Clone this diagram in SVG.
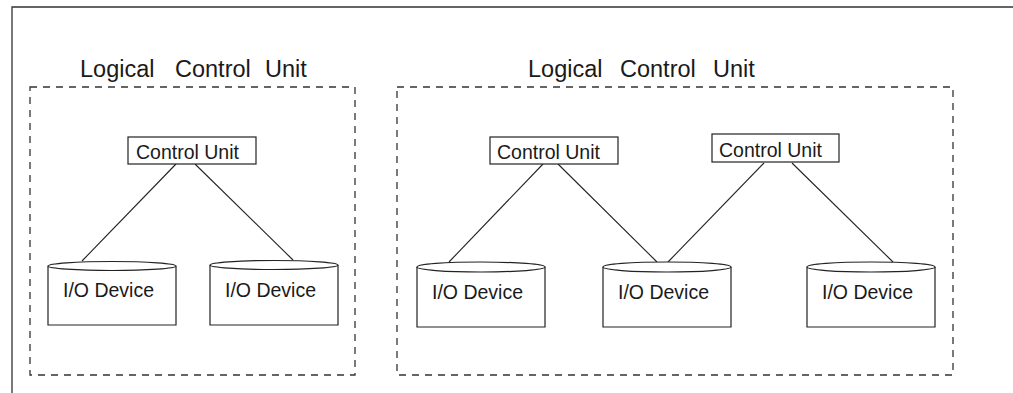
<svg xmlns="http://www.w3.org/2000/svg" width="1013" height="393" viewBox="0 0 1013 393">
<style>
text{font-family:"Liberation Sans",Arial,sans-serif;fill:#1a1a1a}
.title{font-size:23.5px}
.lbl{font-size:19.5px}
.frame{fill:none;stroke:#333;stroke-width:1.3}
.lcu{fill:none;stroke:#333;stroke-width:1.3;stroke-dasharray:7 6}
.box{fill:#fff;stroke:#222;stroke-width:1.2}
.conn{stroke:#222;stroke-width:1.1;fill:none}
</style>
<rect width="1013" height="393" fill="#fff"/>
<path class="frame" d="M12,393 V7 H1013"/>

<g id="lcu1">
<rect class="lcu" x="30" y="87" width="325" height="288"/>
<text class="title" y="77"><tspan x="80">Logical</tspan> <tspan x="175">Control</tspan> <tspan x="265">Unit</tspan></text>
</g>
<g id="lcu2">
<rect class="lcu" x="397" y="87" width="556" height="288"/>
<text class="title" y="77"><tspan x="528">Logical</tspan> <tspan x="620">Control</tspan> <tspan x="713">Unit</tspan></text>
</g>

<g id="connectors">
<line class="conn" x1="176" y1="164" x2="82" y2="261"/>
<line class="conn" x1="195" y1="164" x2="293" y2="260"/>
<line class="conn" x1="543" y1="164" x2="449" y2="262"/>
<line class="conn" x1="558" y1="164" x2="657" y2="262"/>
<line class="conn" x1="764" y1="163" x2="668" y2="262"/>
<line class="conn" x1="792" y1="163" x2="893" y2="262"/>
</g>

<g id="cu1">
<rect class="box" x="128" y="137" width="128" height="27"/>
<text class="lbl" x="136" y="159">Control Unit</text>
</g>
<g id="cu2">
<rect class="box" x="490" y="137" width="128" height="27"/>
<text class="lbl" x="497" y="159">Control Unit</text>
</g>
<g id="cu3">
<rect class="box" x="712" y="134" width="127" height="28"/>
<text class="lbl" x="719" y="157">Control Unit</text>
</g>

<g id="io1">
<path class="box" d="M48,266 V325 H176 V266"/>
<ellipse class="box" cx="112" cy="266" rx="64" ry="4.5"/>
<text class="lbl" x="63" y="297">I/O Device</text>
</g>
<g id="io2">
<path class="box" d="M210,265 V325 H338 V265"/>
<ellipse class="box" cx="274" cy="265" rx="64" ry="4.5"/>
<text class="lbl" x="225" y="297">I/O Device</text>
</g>
<g id="io3">
<path class="box" d="M417,267 V327 H545 V267"/>
<ellipse class="box" cx="481" cy="267" rx="64" ry="5"/>
<text class="lbl" x="432" y="299">I/O Device</text>
</g>
<g id="io4">
<path class="box" d="M603,267 V327 H731 V267"/>
<ellipse class="box" cx="667" cy="267" rx="64" ry="5"/>
<text class="lbl" x="618" y="299">I/O Device</text>
</g>
<g id="io5">
<path class="box" d="M807,267 V327 H935 V267"/>
<ellipse class="box" cx="871" cy="267" rx="64" ry="5"/>
<text class="lbl" x="822" y="299">I/O Device</text>
</g>
</svg>
